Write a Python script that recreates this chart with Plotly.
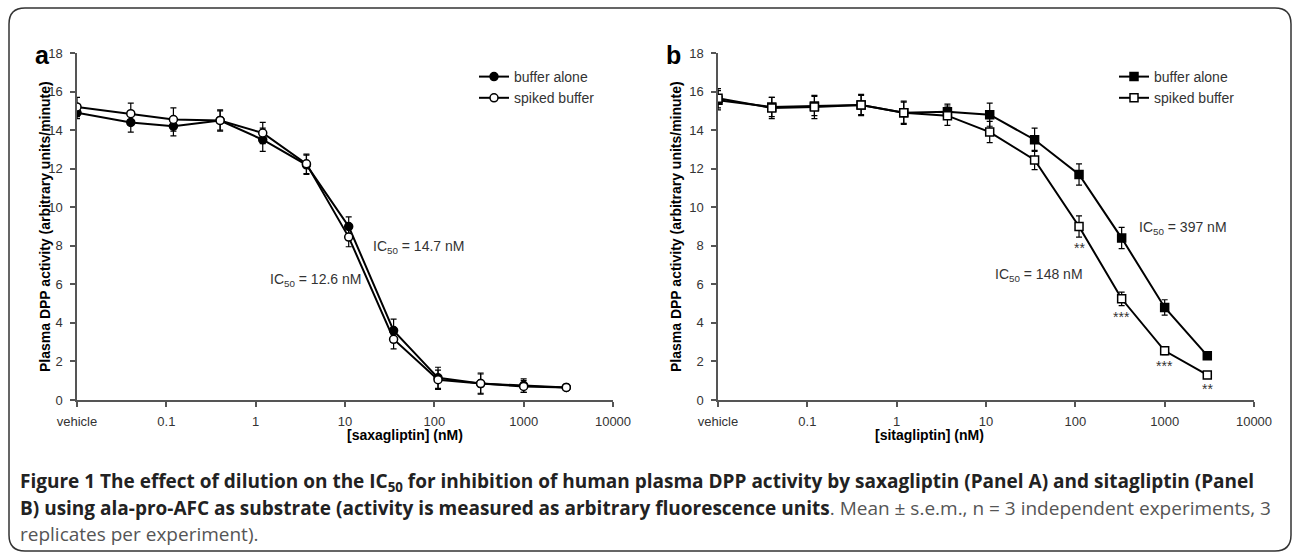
import numpy as np
import plotly.graph_objects as go

W, H = 1293, 553

# ---------------- data ----------------
# concentration (nM); first entry is the "vehicle" position on the log axis
conc_nM = [0.01, 0.04, 0.12, 0.4, 1.2, 3.7, 11, 35, 110, 330, 1000, 3000]
x_tick_vals = [0.01, 0.1, 1, 10, 100, 1000, 10000]
x_tick_text = ["vehicle", "0.1", "1", "10", "100", "1000", "10000"]
y_tick_vals = [0, 2, 4, 6, 8, 10, 12, 14, 16, 18]

# Panel a: saxagliptin
sax_buffer = [14.9, 14.4, 14.2, 14.5, 13.5, 12.2, 9.0, 3.6, 1.15, 0.85, 0.75, 0.65]
sax_buffer_err = [0.3, 0.5, 0.5, 0.5, 0.6, 0.5, 0.5, 0.6, 0.55, 0.5, 0.35, 0.1]
sax_spiked = [15.2, 14.85, 14.55, 14.5, 13.85, 12.25, 8.45, 3.15, 1.05, 0.85, 0.7, 0.65]
sax_spiked_err = [0.5, 0.55, 0.6, 0.55, 0.55, 0.5, 0.5, 0.5, 0.5, 0.55, 0.3, 0.1]

# Panel b: sitagliptin
sit_buffer = [15.55, 15.2, 15.25, 15.3, 14.9, 14.95, 14.8, 13.5, 11.7, 8.4, 4.8, 2.3]
sit_buffer_err = [0.5, 0.5, 0.5, 0.5, 0.55, 0.4, 0.6, 0.6, 0.55, 0.55, 0.4, 0.15]
sit_spiked = [15.65, 15.15, 15.2, 15.3, 14.9, 14.75, 13.9, 12.45, 9.0, 5.25, 2.55, 1.3]
sit_spiked_err = [0.5, 0.55, 0.6, 0.55, 0.6, 0.5, 0.55, 0.5, 0.55, 0.35, 0.2, 0.15]
sit_spiked_sig = ["", "", "", "", "", "", "", "", "**", "***", "***", "**"]

series_names = ["buffer alone", "spiked buffer"]


def px_x(p):
    return p / W


def px_y(p):
    return 1 - p / H


BLACK = "#000000"
AXIS = "#555555"
TXT = "#333333"
FONT = "Liberation Sans, Arial, sans-serif"

fig = go.Figure()


def add_series(y, err, xa, ya, symbol, filled, name, legend):
    fig.add_trace(go.Scatter(
        x=conc_nM, y=y, xaxis=xa, yaxis=ya, mode="lines+markers", name=name,
        legend=legend,
        line=dict(color=BLACK, width=2),
        marker=dict(symbol=symbol, size=8,
                    color=BLACK if filled else "white",
                    line=dict(color=BLACK, width=1.5)),
        error_y=dict(type="data", array=err, visible=True, color=BLACK,
                     thickness=1.2, width=3),
    ))


add_series(sax_buffer, sax_buffer_err, "x", "y", "circle", True, series_names[0], "legend")
add_series(sax_spiked, sax_spiked_err, "x", "y", "circle", False, series_names[1], "legend")
add_series(sit_buffer, sit_buffer_err, "x2", "y2", "square", True, series_names[0], "legend2")
add_series(sit_spiked, sit_spiked_err, "x2", "y2", "square", False, series_names[1], "legend2")

xax = dict(type="log", range=[-2, 4], tickvals=x_tick_vals, ticktext=x_tick_text,
           ticks="outside", ticklen=5, tickwidth=1.5, tickcolor=AXIS,
           showline=True, linecolor=AXIS, linewidth=1.5, showgrid=False,
           zeroline=False, tickfont=dict(family=FONT, size=13, color=TXT),
           ticklabelstandoff=4, automargin=False)
yax = dict(range=[0, 18], tickvals=y_tick_vals, ticks="outside", ticklen=5,
           tickwidth=1.5, tickcolor=AXIS, showline=True, linecolor=AXIS,
           linewidth=1.5, showgrid=False, zeroline=False,
           tickfont=dict(family=FONT, size=13, color=TXT), ticklabelstandoff=5,
           automargin=False)

ydom = [px_y(400), px_y(53)]

leg_common = dict(xanchor="left", yanchor="top", bgcolor="rgba(0,0,0,0)",
                  font=dict(family=FONT, size=14, color=TXT),
                  itemwidth=30, tracegroupgap=0)

fig.update_layout(
    width=W, height=H,
    margin=dict(l=0, r=0, t=0, b=0, pad=0, autoexpand=False),
    autosize=False,
    paper_bgcolor="white", plot_bgcolor="white",
    xaxis=dict(xax, domain=[px_x(77), px_x(613)], anchor="y"),
    yaxis=dict(yax, domain=ydom, anchor="x"),
    xaxis2=dict(xax, domain=[px_x(718), px_x(1254)], anchor="y2"),
    yaxis2=dict(yax, domain=ydom, anchor="x2"),
    legend=dict(leg_common, x=px_x(474), y=px_y(61)),
    legend2=dict(leg_common, x=px_x(1114), y=px_y(61)),
    showlegend=True,
)

ann = []
# panel letters
ann.append(dict(text="<b>a</b>", x=px_x(33), y=px_y(39), xref="paper", yref="paper",
                showarrow=False, font=dict(family=FONT, size=25, color=BLACK)))
ann.append(dict(text="<b>b</b>", x=px_x(673), y=px_y(39), xref="paper", yref="paper",
                showarrow=False, font=dict(family=FONT, size=25, color=BLACK)))
# axis titles
for xc in [35, 676]:
    ann.append(dict(text="<b>Plasma DPP activity (arbitrary units/minute)</b>",
                    x=px_x(xc), y=px_y(227), xref="paper", yref="paper",
                    textangle=-90, showarrow=False,
                    font=dict(family=FONT, size=14, color=BLACK)))
ann.append(dict(text="<b>[saxagliptin] (nM)</b>", x=px_x(345), y=px_y(445),
                xref="paper", yref="paper", showarrow=False,
                font=dict(family=FONT, size=14, color=BLACK)))
ann.append(dict(text="<b>[sitagliptin] (nM)</b>", x=px_x(986), y=px_y(445),
                xref="paper", yref="paper", showarrow=False,
                font=dict(family=FONT, size=14, color=BLACK)))
# IC50 labels
ic_font = dict(family=FONT, size=14, color=TXT)
for txt, xl, yc in [("IC<sub>50</sub> = 14.7 nM", 371, 247),
                    ("IC<sub>50</sub> = 12.6 nM", 268, 280),
                    ("IC<sub>50</sub> = 397 nM", 1137, 228),
                    ("IC<sub>50</sub> = 148 nM", 993, 275)]:
    ann.append(dict(text=txt, x=px_x(xl), y=px_y(yc), xref="paper", yref="paper",
                    xanchor="left", yanchor="middle", showarrow=False, font=ic_font))
# significance stars
for c, m, e, s in zip(conc_nM, sit_spiked, sit_spiked_err, sit_spiked_sig):
    if s:
        ann.append(dict(text=s, x=np.log10(c), y=m - e, xref="x2", yref="y2",
                        yanchor="top", yshift=-1, showarrow=False,
                        font=dict(family=FONT, size=14, color=TXT)))
# caption
cap_font = dict(family="Open Sans, sans-serif", size=19, color="#222222")
cap_lines = [
    "<b>Figure 1 The effect of dilution on the IC<sub>50</sub> for inhibition of human plasma DPP activity by saxagliptin (Panel A) and sitagliptin (Panel</b>",
    "<b>B) using ala-pro-AFC as substrate (activity is measured as arbitrary fluorescence units</b><span style='color:#555555'>. Mean ± s.e.m., n = 3 independent experiments, 3</span>",
    "<span style='color:#555555'>replicates per experiment).</span>",
]
for line, yc in zip(cap_lines, [482, 508, 534]):
    ann.append(dict(text=line, x=px_x(18), y=px_y(yc), xref="paper", yref="paper",
                    xanchor="left", yanchor="middle", showarrow=False, font=cap_font))

fig.update_layout(annotations=ann)

# rounded outer frame
x0, x1, y0, y1, r = 9, 1291, 8, 551, 16
pts = (f"M {px_x(x0 + r)},{px_y(y0)} L {px_x(x1 - r)},{px_y(y0)} "
       f"Q {px_x(x1)},{px_y(y0)} {px_x(x1)},{px_y(y0 + r)} "
       f"L {px_x(x1)},{px_y(y1 - r)} Q {px_x(x1)},{px_y(y1)} {px_x(x1 - r)},{px_y(y1)} "
       f"L {px_x(x0 + r)},{px_y(y1)} Q {px_x(x0)},{px_y(y1)} {px_x(x0)},{px_y(y1 - r)} "
       f"L {px_x(x0)},{px_y(y0 + r)} Q {px_x(x0)},{px_y(y0)} {px_x(x0 + r)},{px_y(y0)} Z")
fig.add_shape(type="path", path=pts, xref="paper", yref="paper",
              line=dict(color="#333333", width=1.5))

fig.write_html("out.html", config={"displayModeBar": False},
               post_script="document.body.style.margin='0';document.body.style.overflow='hidden';")
